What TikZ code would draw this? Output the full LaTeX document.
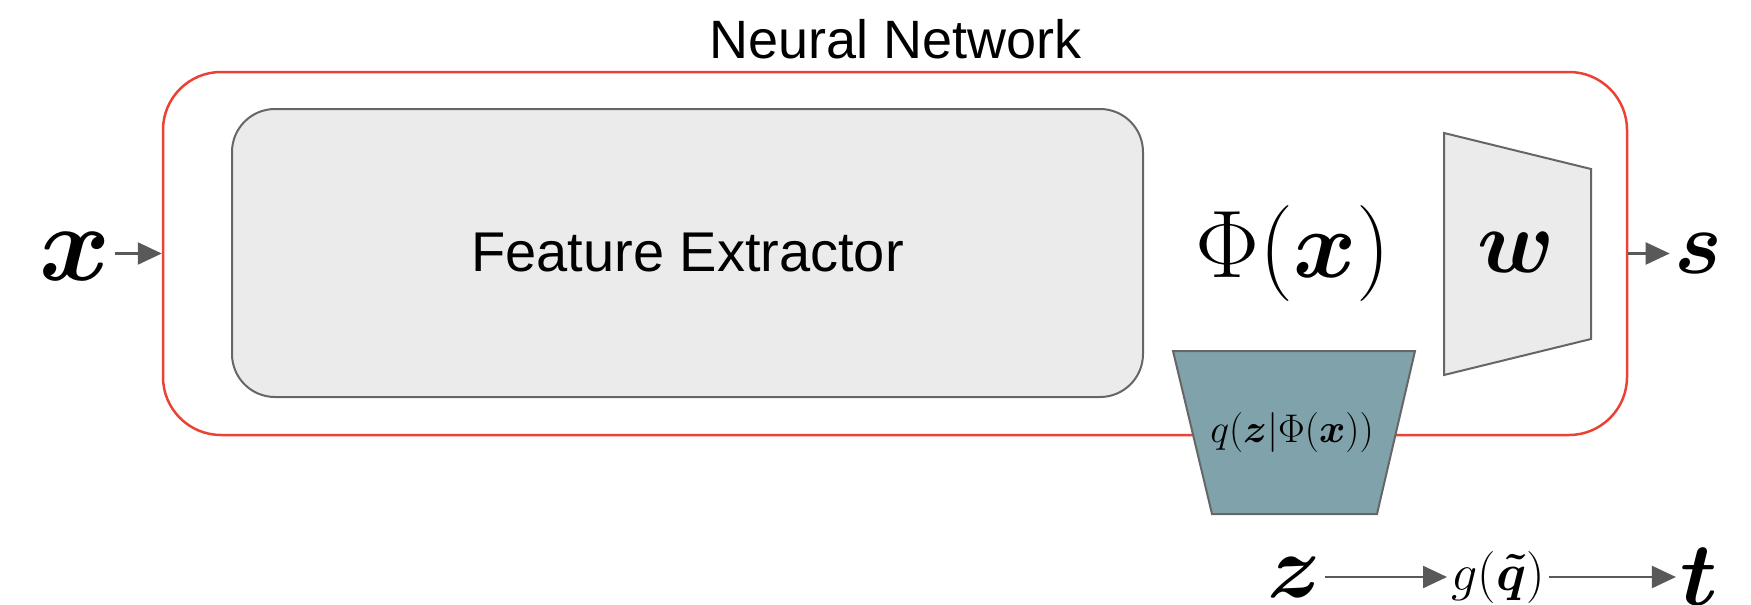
\RequirePackage{fix-cm}
\documentclass[tikz,border=0pt]{standalone}
\usepackage{amsmath}
\usepackage{fontspec}
\newfontfamily\arialf{Liberation Sans}
\usetikzlibrary{arrows.meta}
\definecolor{nnred}{HTML}{EA4335}
\definecolor{boxgray}{HTML}{EBEBEB}
\definecolor{edgegray}{HTML}{666666}
\definecolor{qteal}{HTML}{80A2AA}
\definecolor{arrgray}{HTML}{595959}
\begin{document}
\begin{tikzpicture}[x=0.5pt,y=-0.5pt,
  arr/.style={draw=arrgray, line width=1.2pt, -{Triangle[length=12pt,width=11pt]}},
  bigmath/.style={inner sep=2pt, font=\fontsize{45}{54}\selectfont},
  shapeedge/.style={draw=edgegray, line width=1pt}
]
\useasboundingbox (0,0) rectangle (1751,605);

% outer network box
\node[draw=nnred, line width=1.25pt, rounded corners=29pt,
      minimum width=732pt, minimum height=181.5pt, inner sep=0pt] (nn) at (895,253.5) {};
\node[font=\arialf\fontsize{27}{32}\selectfont] (title) at (895.5,39) {Neural Network};

% feature extractor
\node[shapeedge, fill=boxgray, rounded corners=21.5pt,
      minimum width=455.5pt, minimum height=144pt,
      font=\arialf\fontsize{28}{33}\selectfont] (fe) at (687.5,253) {Feature Extractor};

% Phi(x)
\node[bigmath, font=\fontsize{48}{56}\selectfont] (phi) at (1293,253.5) {$\Phi(\boldsymbol{x})$};

% w trapezoid
\draw[shapeedge, fill=boxgray] (1444,133) -- (1591,169) -- (1591,339) -- (1444,375) -- cycle;
\node[bigmath] (w) at (1516,252) {$\boldsymbol{w}$};

% q trapezoid
\draw[shapeedge, fill=qteal] (1173,351) -- (1415,351) -- (1377,514) -- (1212,514) -- cycle;
\node[inner sep=2pt, font=\fontsize{20}{24}\selectfont] (q) at (1292,432) {$q(\boldsymbol{z}|\Phi(\boldsymbol{x}))$};

% inputs / outputs
\node[bigmath, font=\fontsize{54}{60}\selectfont] (x) at (75,256) {$\boldsymbol{x}$};
\node[bigmath] (s) at (1698,253) {$\boldsymbol{s}$};
\node[bigmath] (z) at (1294,577) {$\boldsymbol{z}$};
\node[inner sep=2pt, font=\fontsize{26}{31}\selectfont] (g) at (1498,577) {$g(\boldsymbol{\tilde{q}})$};
\node[bigmath] (t) at (1699,577) {$\boldsymbol{t}$};

% connectors
\draw[arr] (x.east |- nn.west) -- (nn.west);
\draw[arr] (nn.east) -- (nn.east -| s.west);
\draw[arr] (z.east) -- (g.west);
\draw[arr] (g.east) -- (g.east -| t.west);
\end{tikzpicture}
\end{document}
